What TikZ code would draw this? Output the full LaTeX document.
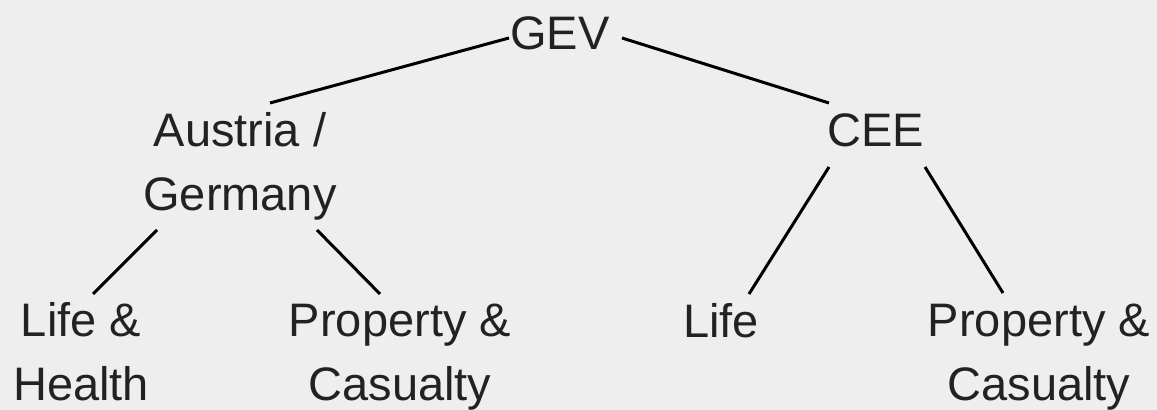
\documentclass[tikz,border=0pt]{standalone}
\usepackage{fontspec}
\setmainfont{Liberation Sans}
\usepackage{tikz}
\usetikzlibrary{calc, positioning}
\definecolor{paper}{HTML}{EEEEEE}
\definecolor{ink}{HTML}{222222}

\begin{document}
\begin{tikzpicture}[x=0.5pt, y=-0.5pt,
        every node/.style={text=ink, font=\fontsize{23.5}{32}\selectfont, align=center, inner sep=0pt},
        branch/.style={draw=black, line width=1.5pt}]
            \fill[paper] (0,0) rectangle (1157,410);
            \useasboundingbox (0,0) rectangle (1157,410);

            \node[anchor=base] (gev) at (560,50){GEV};

            \node[anchor=base] (austria) at (240,211){Austria /\\Germany};
            \node[anchor=base] (cee) at (876,147){CEE};

            \node[anchor=base] (lifehealth) at (81,401){Life \&\\Health};
            \node[anchor=base] (propAT) at (400,401){Property \&\\Casualty};
            \node[anchor=base] (lifeCEE) at (721,338){Life};
            \node[anchor=base] (propCEE) at (1039,401){Property \&\\Casualty};

            \draw[branch] ($(austria.base)+(30,-108)$) -- ($(gev.base)+(-51,-12)$);
            \draw[branch] ($(gev.base)+(62,-12)$) -- ($(cee.base)+(-47,-44)$);

            \draw[branch] ($(austria.base)+(-83,19)$) -- ($(lifehealth.base)+(12,-107)$);
            \draw[branch] ($(austria.base)+(77,19)$) -- ($(propAT.base)+(-20,-107)$);

            \draw[branch] ($(cee.base)+(-47,20)$) -- ($(lifeCEE.base)+(28,-44)$);
            \draw[branch] ($(cee.base)+(49,20)$) -- ($(propCEE.base)+(-36,-108)$);
\end{tikzpicture}
\end{document}
